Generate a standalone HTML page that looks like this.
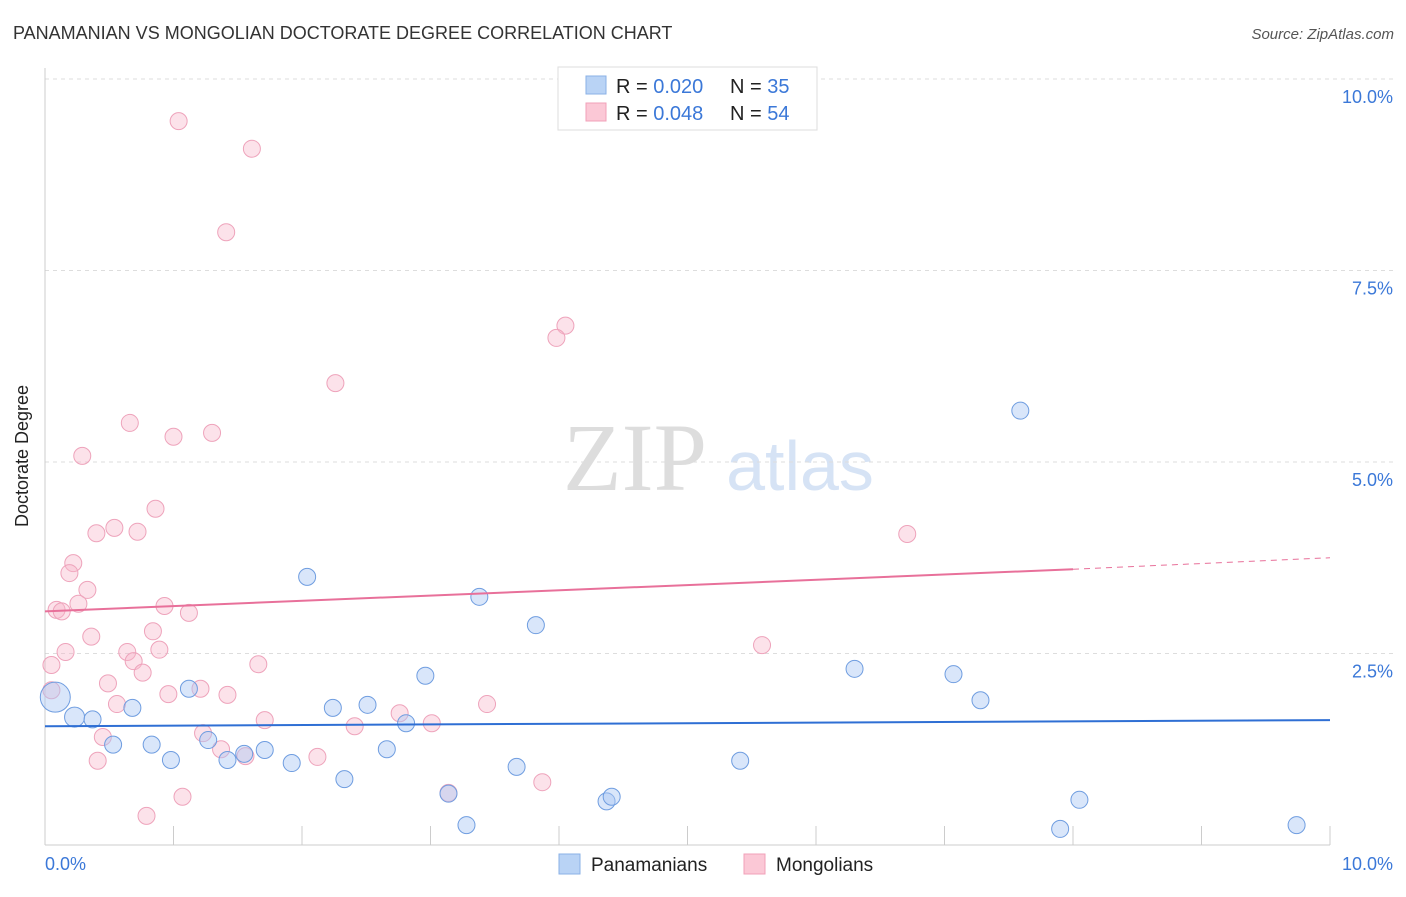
<!DOCTYPE html>
<html><head><meta charset="utf-8"><style>
body{margin:0;background:#fff;font-family:"Liberation Sans",sans-serif}
</style></head><body>
<svg width="1406" height="892" xmlns="http://www.w3.org/2000/svg" font-family="Liberation Sans, sans-serif">
<text x="13" y="39" font-size="18" fill="#333">PANAMANIAN VS MONGOLIAN DOCTORATE DEGREE CORRELATION CHART</text>
<text x="1394" y="39" font-size="15" fill="#555" font-style="italic" text-anchor="end">Source: ZipAtlas.com</text>
<g><text x="635" y="490" font-size="96" fill="#ddd" font-family="Liberation Serif, serif" text-anchor="middle">ZIP</text><text x="800" y="490" font-size="70" fill="#d6e3f5" text-anchor="middle">atlas</text></g>
<g id="grid"></g>
<line x1="45" y1="68" x2="45" y2="845" stroke="#ccc"/>
<line x1="45" y1="845" x2="1330" y2="845" stroke="#ccc"/>
<text x="28" y="456" font-size="18" fill="#222" text-anchor="middle" transform="rotate(-90 28 456)">Doctorate Degree</text>
<text x="45" y="870" font-size="18" fill="#3b78d8">0.0%</text>
<text x="1393" y="870" font-size="18" fill="#3b78d8" text-anchor="end">10.0%</text>
<g id="pts"></g>
<g id="trends"></g>
<g>
<rect x="558" y="67" width="259" height="63" fill="#fff" stroke="#ddd"/>
<rect x="586" y="76" width="20" height="18" fill="#b9d3f5" stroke="#8ab0e6"/>
<rect x="586" y="103" width="20" height="18" fill="#fbc8d6" stroke="#f1a0b8"/>
<text x="616" y="93" font-size="20" fill="#222">R = <tspan fill="#3b78d8">0.020</tspan></text>
<text x="730" y="93" font-size="20" fill="#222">N = <tspan fill="#3b78d8">35</tspan></text>
<text x="616" y="120" font-size="20" fill="#222">R = <tspan fill="#3b78d8">0.048</tspan></text>
<text x="730" y="120" font-size="20" fill="#222">N = <tspan fill="#3b78d8">54</tspan></text>
</g>
<g>
<rect x="559" y="854" width="21" height="20" fill="#b9d3f5" stroke="#8ab0e6"/>
<text x="591" y="871" font-size="19" fill="#222">Panamanians</text>
<rect x="744" y="854" width="21" height="20" fill="#fbc8d6" stroke="#f1a0b8"/>
<text x="776" y="871" font-size="19" fill="#222">Mongolians</text>
</g>
</svg>
<script>
const yTicks=[2.5,5.0,7.5,10.0];
const yTickLabels=["2.5%","5.0%","7.5%","10.0%"];
const xTicks=[0,1,2,3,4,5,6,7,8,9,10];
const blueX=[0.08,0.23,0.37,0.53,0.68,0.83,0.98,1.12,1.27,1.42,1.55,1.71,1.92,2.04,2.24,2.33,2.51,2.66,2.81,2.96,3.14,3.28,3.38,3.67,3.82,4.37,4.41,5.41,6.30,7.07,7.28,7.59,8.05,7.90,9.74];
const blueY=[1.93,1.67,1.64,1.31,1.79,1.31,1.11,2.04,1.37,1.11,1.19,1.24,1.07,3.50,1.79,0.86,1.83,1.25,1.59,2.21,0.67,0.26,3.24,1.02,2.87,0.57,0.63,1.10,2.30,2.23,1.89,5.67,0.59,0.21,0.26];
const blueR=[15,10,8.5,8.5,8.5,8.5,8.5,8.5,8.5,8.5,8.5,8.5,8.5,8.5,8.5,8.5,8.5,8.5,8.5,8.5,8.5,8.5,8.5,8.5,8.5,8.5,8.5,8.5,8.5,8.5,8.5,8.5,8.5,8.5,8.5];
const pinkX=[1.04,1.61,1.41,4.05,3.98,2.26,0.66,1.00,1.30,0.29,0.86,0.54,0.40,0.72,6.71,0.22,0.19,0.33,0.26,0.09,0.13,0.93,1.12,0.36,0.84,0.16,0.64,0.89,0.69,0.05,5.58,1.66,0.76,0.49,0.05,1.21,0.96,1.42,0.56,3.44,2.76,1.71,2.41,3.01,1.23,0.45,1.37,1.56,2.12,0.41,3.14,3.87,1.07,0.79];
const pinkY=[9.45,9.09,8.00,6.78,6.62,6.03,5.51,5.33,5.38,5.08,4.39,4.14,4.07,4.09,4.06,3.68,3.55,3.33,3.15,3.07,3.05,3.12,3.03,2.72,2.79,2.52,2.52,2.55,2.40,2.35,2.61,2.36,2.25,2.11,2.02,2.04,1.97,1.96,1.84,1.84,1.72,1.63,1.55,1.59,1.46,1.41,1.25,1.16,1.15,1.10,0.68,0.82,0.63,0.38];
const blueTrend=[1.55,1.63];
const pinkTrend=[3.05,3.60,3.75];
const pinkTrendX=[0,8,10];
const NS="http://www.w3.org/2000/svg";
const sx=v=>45+v*128.5, sy=v=>845-v*76.6;
function mk(t,a,p){const e=document.createElementNS(NS,t);for(const k in a)e.setAttribute(k,a[k]);document.getElementById(p).appendChild(e);return e;}
yTicks.forEach((t,i)=>{
 const l=mk('line',{x1:45,x2:1393,y1:sy(t),y2:sy(t),stroke:'#ddd','stroke-dasharray':'4 4'},'grid');
 
 
 const tx=mk('text',{x:1393,y:sy(t)+24,'font-size':18,fill:'#3b78d8','text-anchor':'end'},'grid');
 tx.textContent=yTickLabels[i];
 
 
});
xTicks.forEach(t=>{
 const l=mk('line',{x1:sx(t),x2:sx(t),y1:826,y2:845,stroke:'#ccc'},'grid');
 
 
});
pinkX.forEach((x,i)=>{
 const c=mk('circle',{cx:sx(x),cy:sy(pinkY[i]),r:8.5,fill:'rgba(248,183,203,0.4)',stroke:'#eea3bb','stroke-width':1},'pts');
 
 
});
blueX.forEach((x,i)=>{
 const c=mk('circle',{cx:sx(x),cy:sy(blueY[i]),r:blueR[i],fill:'rgba(170,200,243,0.45)',stroke:'#6f9de0','stroke-width':1},'pts');
 
 
});
let b=mk('line',{x1:sx(0),x2:sx(10),y1:sy(blueTrend[0]),y2:sy(blueTrend[1]),stroke:'#2f6fd4','stroke-width':2},'trends');


let p=mk('line',{x1:sx(pinkTrendX[0]),x2:sx(pinkTrendX[1]),y1:sy(pinkTrend[0]),y2:sy(pinkTrend[1]),stroke:'#e8709a','stroke-width':2},'trends');


let pd=mk('line',{x1:sx(pinkTrendX[1]),x2:sx(pinkTrendX[2]),y1:sy(pinkTrend[1]),y2:sy(pinkTrend[2]),stroke:'#e8709a','stroke-width':1,'stroke-dasharray':'6 5'},'trends');


</script>
</body></html>
